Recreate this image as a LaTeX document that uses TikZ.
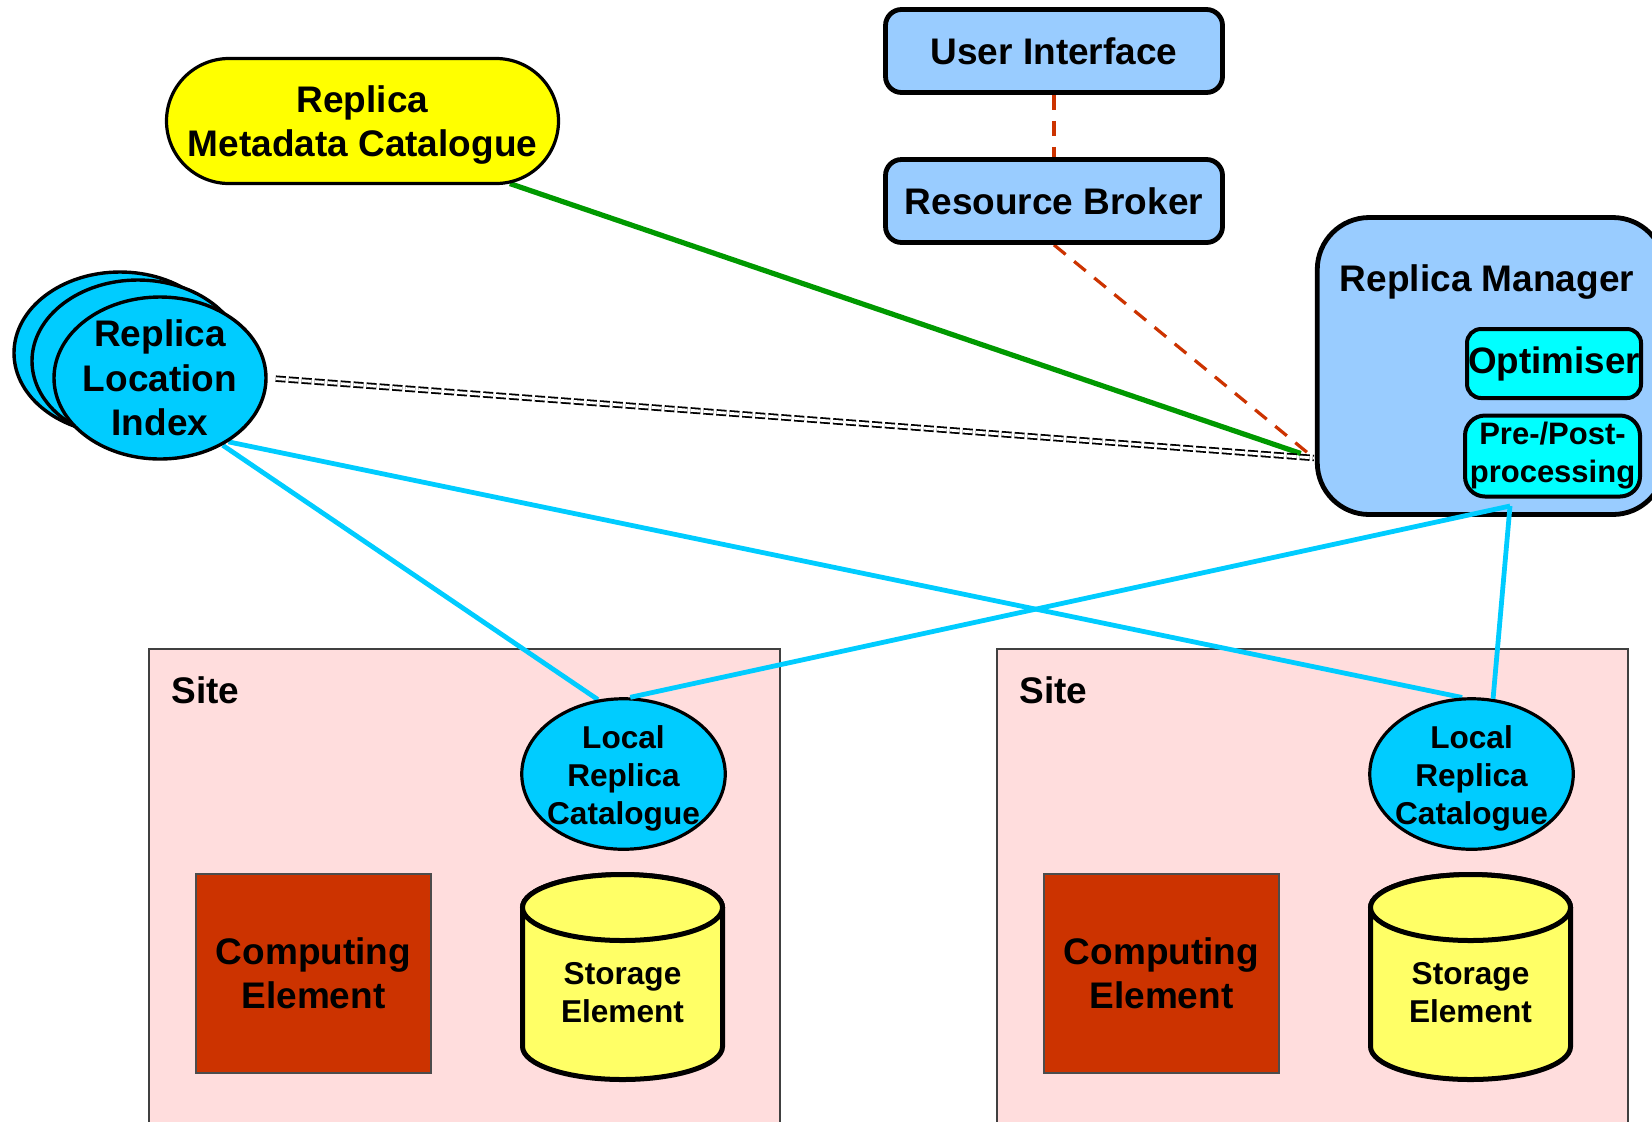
\documentclass[tikz,border=0pt]{standalone}
\usepackage{fontspec}
\setmainfont{Liberation Sans}
\usetikzlibrary{shapes.geometric,shapes.misc,backgrounds}

\definecolor{paleblue}{HTML}{99CCFF}
\definecolor{skyblue}{HTML}{00CCFF}
\definecolor{aqua}{HTML}{00FFFF}
\definecolor{lemon}{HTML}{FFFF66}
\definecolor{rust}{HTML}{CC3300}
\definecolor{sitepink}{HTML}{FFDDDD}
\definecolor{grass}{HTML}{009900}
\definecolor{sunny}{HTML}{FFFF00}

\tikzset{
  bigfont/.style={font=\bfseries\fontsize{18.5}{22.2}\selectfont},
  smallfont/.style={font=\bfseries\fontsize{15.8}{19}\selectfont},
  bluebox/.style={draw,line width=2.4pt,fill=paleblue,rounded corners=8pt,minimum width=168.5pt,minimum height=41.5pt,inner sep=0pt,bigfont},
  catalogue/.style={draw,ellipse,line width=1.7pt,fill=skyblue,inner sep=0pt},
  subbox/.style={draw,line width=2pt,fill=aqua,inner sep=0pt,align=center},
  sitebox/.style={draw=black!75,line width=0.6pt,fill=sitepink,minimum width=315.5pt,minimum height=240.5pt,inner sep=0pt},
  cebox/.style={draw=black!70,line width=0.6pt,fill=rust,minimum width=117.5pt,minimum height=99.5pt,inner sep=0pt,align=center,bigfont},
  store/.style={draw,line width=2.5pt,fill=lemon},
  cyanlink/.style={skyblue,line width=2.4pt},
  rbdash/.style={rust,line width=1.6pt,dash pattern=on 7.5pt off 5.5pt},
}

\begin{document}
\begin{tikzpicture}[x=0.5pt,y=-0.5pt]
\useasboundingbox (0,0) rectangle (1652,1121);

% the two sites
\begin{scope}[on background layer]
\foreach \dx/\s in {0/l,848/r}
  \node[sitebox] (site\s) at (464.5+\dx,889.5) {};
\end{scope}

\node[bluebox] (ui) at (1054,51) {User Interface};
\node[bluebox] (rb) at (1054,201) {Resource Broker};

\node[draw,rounded rectangle,line width=1.6pt,fill=sunny,minimum width=196pt,minimum height=62.5pt,inner sep=0pt] (rmc) at (362.5,121) {};
\node[bigfont,align=center,inner sep=0pt] (rmctext) at (362.5,125) {Replica\\Metadata Catalogue};

% replica location index (stacked)
\node[catalogue,minimum width=106pt,minimum height=81pt] (rli3) at (120,353) {};
\node[catalogue,minimum width=106pt,minimum height=81pt] (rli2) at (138,361) {};
\node[catalogue,minimum width=106pt,minimum height=81pt] (rli) at (160,378) {};
\node[bigfont,align=center,inner sep=0pt] (rlitext) at (160,378) {Replica\\Location\\Index};

% replica manager
\node[draw,line width=2.4pt,fill=paleblue,rounded corners=26pt,minimum width=173.75pt,minimum height=148.5pt] (rm) at (1491,366) {};
\node[bigfont,anchor=base,inner sep=0pt] (rmtitle) at (1487,291) {Replica Manager};
\node[subbox,rounded corners=7pt,minimum width=87pt,minimum height=34.5pt,font=\bfseries\fontsize{18.4}{22}\selectfont] (opt) at (1554,363.5) {Optimiser};
\node[subbox,rounded corners=10pt,minimum width=87.5pt,minimum height=40.5pt,font=\bfseries\fontsize{15.5}{19}\selectfont] (pp) at (1552.5,456) {Pre-/Post-\\processing};
\coordinate (rmfoot) at (1510,506);
\coordinate (rmport) at (1314,458);

% contents of each site
\foreach \dx/\s in {0/l,848/r} {
  \node[inner sep=0pt,anchor=base west,bigfont] (sitelab\s) at (171+\dx,703) {Site};
  \node[catalogue,line width=1.6pt,minimum width=101.75pt,minimum height=75.25pt] (lrc\s) at (623.5+\dx,774) {};
  \node[smallfont,align=center,inner sep=0pt] (lrctext\s) at (623.5+\dx,778) {Local\\Replica\\Catalogue};
  \node[cebox] (ce\s) at (313.5+\dx,973.5) {Computing\\Element};
  \draw[store] (522.5+\dx,907.5) -- (522.5+\dx,1046.5) arc[start angle=180,end angle=360,x radius=50pt,y radius=16.5pt]
     -- (722.5+\dx,907.5) arc[start angle=0,end angle=180,x radius=50pt,y radius=16.5pt] -- cycle;
  \draw[store] (622.5+\dx,907.5) ellipse[x radius=50pt,y radius=16.5pt];
  \node[smallfont,align=center,inner sep=0pt] (se\s) at (622.5+\dx,993) {Storage\\Element};
}

% connectors
\begin{scope}[on background layer]
\draw[rbdash] (ui.south) -- (rb.north);
\draw[rbdash] (rb.south) -- (rmport);
\draw[grass,line width=2.6pt,shorten >=7pt] (rmc.-23) -- (rmport);
\draw[double,line width=0.9pt,double distance=1.4pt,dash pattern=on 5pt off 1.5pt,shorten <=4pt] (rli.east) -- (rmport);
\draw[cyanlink] (rli.-47) -- (lrcl.109);
\draw[cyanlink] (rli.-43) -- (lrcr.97);
\end{scope}
\draw[cyanlink] (rmfoot) -- (lrcl.85);
\draw[cyanlink] (rmfoot) -- (lrcr.74);
\end{tikzpicture}
\end{document}
